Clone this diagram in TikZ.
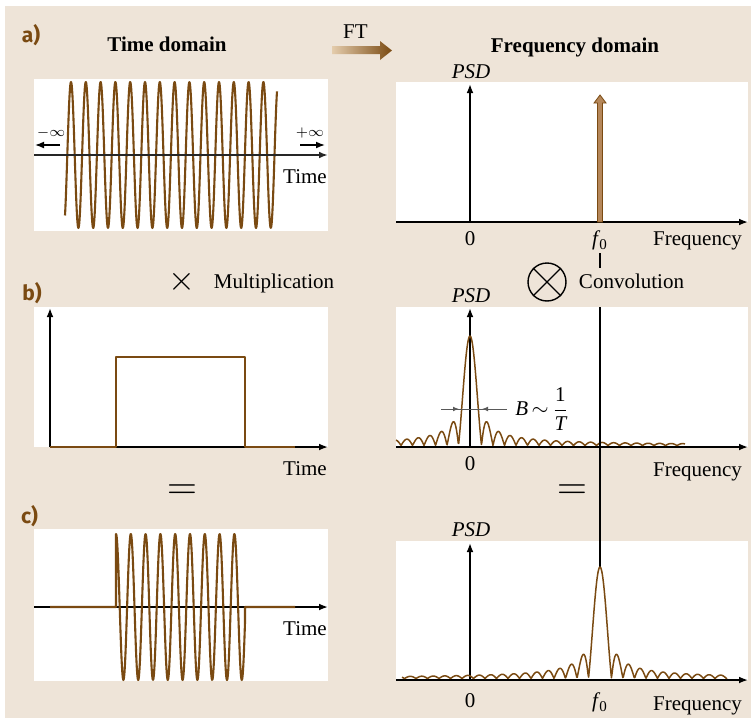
\documentclass[tikz,border=0pt]{standalone}
\usepackage{fontspec}
\setmainfont{Liberation Serif}
\newfontfamily\partfont{Fira Sans}
\usetikzlibrary{arrows.meta}

\definecolor{panelbg}{RGB}{238,228,216}
\definecolor{wavebrown}{RGB}{122,74,18}
\definecolor{deltatan}{RGB}{181,135,90}
\definecolor{ftlight}{RGB}{228,204,172}

\newcommand{\fzero}{\textit{f}\kern-0.6pt\raisebox{-2pt}{\fontsize{7.5}{8}\selectfont 0}}

\begin{document}
\begin{tikzpicture}[x=0.5pt, y=-0.5pt, >={Latex[length=4.5pt,width=3.4pt]},
    every node/.style={font=\fontsize{10.5}{12}\selectfont, inner sep=0pt},
    txt/.style={anchor=base},
    axis/.style={->, line width=0.8pt},
    wave/.style={wavebrown, line width=1.05pt, line join=round},
    spectrum/.style={wavebrown, line width=0.75pt, line join=round},
    plotbox/.style={fill=white},
    partlabel/.style={anchor=base, text=wavebrown, font=\partfont\bfseries\fontsize{10.5}{12}\selectfont},
    heading/.style={anchor=base, font=\bfseries\fontsize{10.5}{12}\selectfont},
    declare function={sa(\t)=(abs(\t)<0.0001) ? 1 : abs(sin(\t r)/\t);}]

    % 1. Background and white plot areas
    \useasboundingbox (0,0) rectangle (751,718);
    \fill[panelbg] (5,6) rectangle (751,718);
    \fill[plotbox] (34,79) rectangle (328,231);
    \fill[plotbox] (396,82) rectangle (748,222);
    \fill[plotbox] (34,307) rectangle (328,447);
    \fill[plotbox] (396,307) rectangle (748,447);
    \fill[plotbox] (34,529) rectangle (328,681);
    \fill[plotbox] (396,541) rectangle (748,680);

    % 2. Headings and the FT arrow
    \node[partlabel] (lblA) at (31,42) {a)};
    \node[heading] (timeDom) at (167,51.5) {Time domain};
    \node[heading] (freqDom) at (575,52) {Frequency domain};
    \node[txt] (ftLbl) at (355.5,38) {FT};
    \shade[left color=ftlight, right color=wavebrown]
        (332,46) -- (380,46) -- (380,41) -- (392,50.5) -- (380,60) -- (380,54) -- (332,54) -- cycle;

    % 3. a) endless sine wave
    \draw[wave] plot[domain=65:277, samples=600] (\x, {155-73*cos((\x-71)/14.8*360)});
    \draw[axis, line width=1pt, black!85] (34,155) -- (328,155);
    \node (minusInf) at (51,133) {\scriptsize$-\infty$};
    \node (plusInf) at (310,133) {\scriptsize$+\infty$};
    \draw[->, line width=0.6pt] (60,145) -- (35,145);
    \draw[->, line width=0.6pt] (300,145) -- (325,145);
    \node[txt] (timeA) at (305,183) {Time};

    % 4. a) line spectrum
    \draw[axis] (470,222) -- (470,84);
    \draw[axis] (396,222) -- (748,222);
    \filldraw[fill=deltatan, draw=wavebrown, line width=0.4pt]
        (597.5,222) -- (597.5,103) -- (594,103) -- (600,95) -- (606,103) -- (602.5,103) -- (602.5,222) -- cycle;
    \node[txt] (psdA) at (471,78) {\textit{PSD}};
    \node[txt] (zeroA) at (470,245) {0};
    \node[txt] (fzeroA) at (599.5,245) {\fzero};
    \node[txt] (freqA) at (697.5,245) {Frequency};

    % 5. Operators between the rows
    \node[font=\fontsize{18}{18}\selectfont] (mulSign) at (182,282) {$\times$};
    \node[txt] (mulLbl) at (274,288) {Multiplication};
    \node[circle, draw, line width=0.7pt, minimum size=19pt] (convSign) at (547,282) {};
    \draw[line width=0.7pt] (convSign.north west) -- (convSign.south east)
        (convSign.north east) -- (convSign.south west);
    \node[txt] (convLbl) at (631.5,288) {Convolution};

    % 6. b) rectangular window
    \node[partlabel] (lblB) at (32,300) {b)};
    \draw[axis] (50,447) -- (50,308);
    \draw[axis] (50,447) -- (328,447);
    \draw[wave, line width=1pt] (50,447) -- (116,447) -- (116,357) -- (245,357) -- (245,447) -- (295,447);
    \node[txt] (timeB) at (305,475) {Time};

    % 7. b) sinc spectrum around zero
    \draw[axis] (470,447) -- (470,308);
    \draw[axis] (396,447) -- (748,447);
    \draw[spectrum] plot[domain=396:685, samples=600] (\x, {445.5-109.5*sa((\x-470)/11.5*pi)});
    \draw[black!65, line width=0.5pt] (441,409) -- (507,409);
    \draw[->, black!65, line width=0.5pt, >={Latex[length=3pt,width=2.4pt]}] (449,409) -- (459,409);
    \draw[->, black!65, line width=0.5pt, >={Latex[length=3pt,width=2.4pt]}] (492,409) -- (482,409);
    \node (bwLbl) at (542,409) {\textit{B}\,$\sim$\,$\displaystyle\frac{\mbox{1}}{\mbox{\itshape T}}$};
    \node[txt] (psdB) at (471,302) {\textit{PSD}};
    \node[txt] (zeroB) at (470,470) {0};
    \node[txt] (freqB) at (697.5,476) {Frequency};

    % 8. Line down from f0
    \draw[line width=0.6pt] (600,253) -- (600,268);
    \draw[line width=0.6pt] (600,307) -- (600,567);

    % 9. Equals signs
    \node[font=\fontsize{21}{21}\selectfont] (eqLeft) at (182,492) {$=$};
    \node[font=\fontsize{21}{21}\selectfont] (eqRight) at (572,492) {$=$};

    % 10. c) tone burst
    \node[partlabel] (lblC) at (29.5,523) {c)};
    \draw[axis] (34,607) -- (328,607);
    \draw[wave] (50,607) -- (116,607)
        -- plot[domain=116:245, samples=400] (\x, {607-73*cos((\x-116)/14.8*360)})
        -- (245,607) -- (295,607);
    \node[txt] (timeC) at (305,635) {Time};

    % 11. c) sinc spectrum around f0
    \draw[axis] (470,680) -- (470,543);
    \draw[axis] (396,680) -- (748,680);
    \draw[spectrum] plot[domain=402:727, samples=600] (\x, {678.5-111.5*sa((\x-600)/11.5*pi)});
    \node[txt] (psdC) at (471,536) {\textit{PSD}};
    \node[txt] (zeroC) at (470,707) {0};
    \node[txt] (fzeroC) at (599.5,707) {\fzero};
    \node[txt] (freqC) at (697.5,710) {Frequency};
\end{tikzpicture}
\end{document}
